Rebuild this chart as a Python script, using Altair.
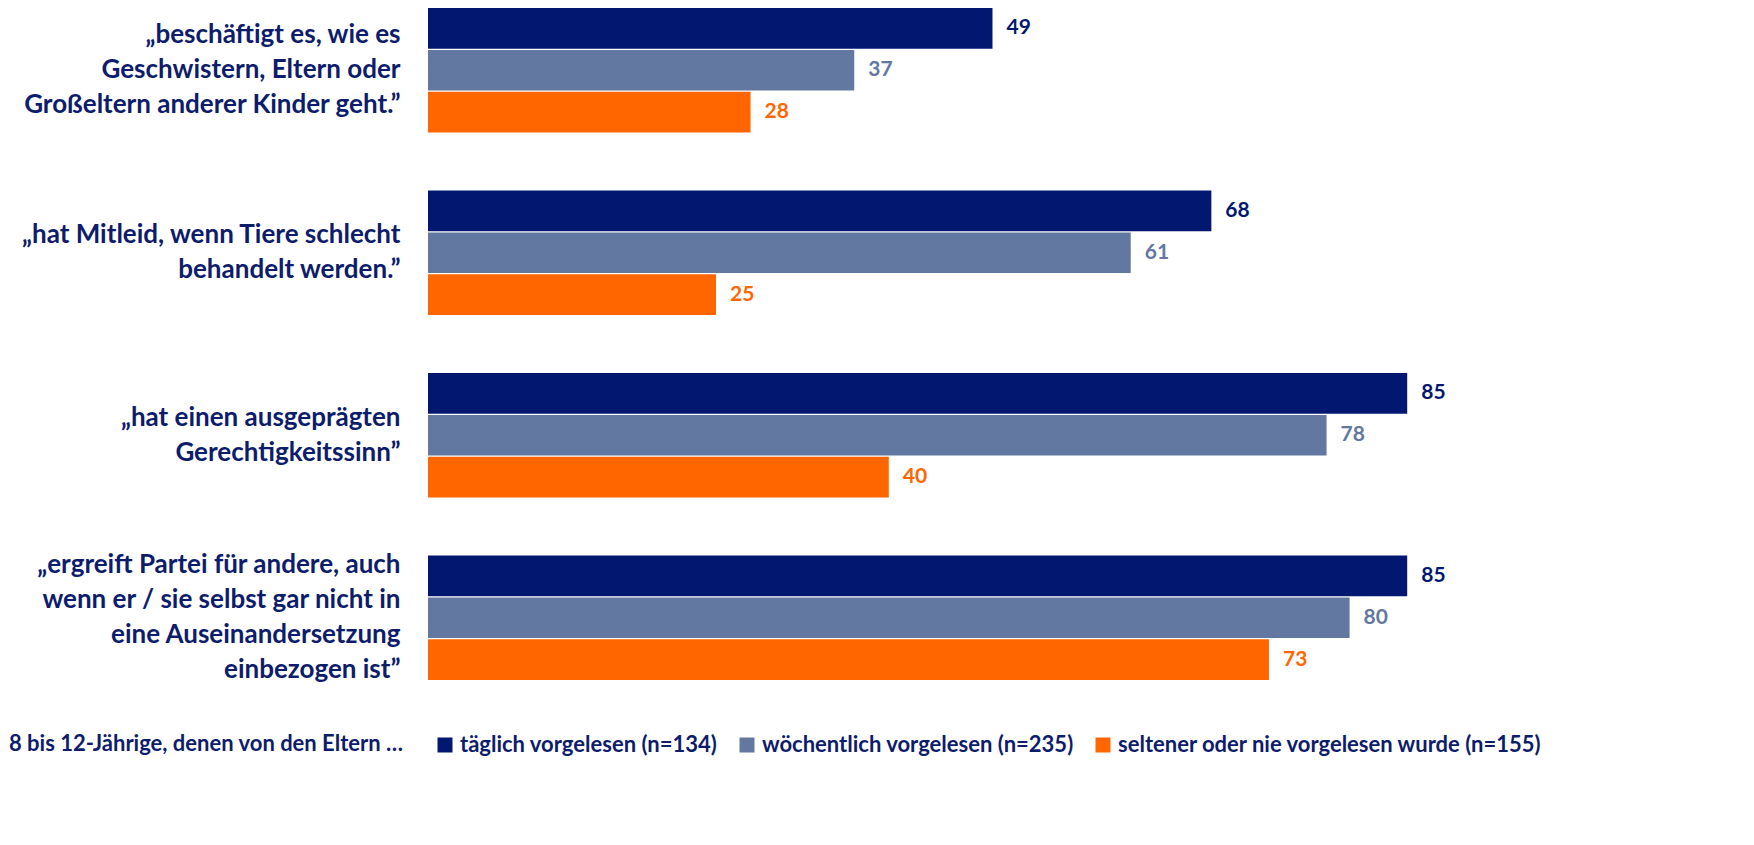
import altair as alt
import pandas as pd

categories = [
    "„beschäftigt es, wie es|Geschwistern, Eltern oder|Großeltern anderer Kinder geht.”",
    "„hat Mitleid, wenn Tiere schlecht|behandelt werden.”",
    "„hat einen ausgeprägten|Gerechtigkeitssinn”",
    "„ergreift Partei für andere, auch|wenn er / sie selbst gar nicht in|eine Auseinandersetzung|einbezogen ist”",
]
series = [
    "täglich vorgelesen (n=134)",
    "wöchentlich vorgelesen (n=235)",
    "seltener oder nie vorgelesen wurde (n=155)",
]
values_daily = [49, 68, 85, 85]
values_weekly = [37, 61, 78, 80]
values_rarely = [28, 25, 40, 73]
colors = ["#021870", "#6378A0", "#FF6600"]
footnote = ["8 bis 12-Jährige, denen von den Eltern …"]

rows = []
for s, vals in zip(series, [values_daily, values_weekly, values_rarely]):
    for c, v in zip(categories, vals):
        rows.append({"cat": c, "series": s, "value": v})
df = pd.DataFrame(rows)
df_note = pd.DataFrame({"note": footnote})

navy_text = "#0D1C6B"
FONT = "Lato"
LH = 35

y_enc = alt.Y(
    "cat:N",
    sort=categories,
    scale=alt.Scale(paddingInner=0.318, paddingOuter=0),
    axis=alt.Axis(
        title=None,
        labelExpr="split(datum.label, '|')",
        labelFontSize=26,
        labelFont=FONT,
        labelFontWeight="bold",
        labelColor=navy_text,
        labelPadding=28,
        labelLimit=430,
        labelLineHeight=LH,
        labelAlign="right",
        labelOffset=alt.ExprRef(f"-(length(split(datum.value, '|')) - 1) * {LH / 2}"),
        ticks=False,
        domain=False,
        grid=False,
    ),
)
yoff = alt.YOffset("series:N", sort=series, scale=alt.Scale(paddingInner=0.03))
x_enc = alt.X("value:Q", scale=alt.Scale(domain=[0, 100]), axis=None)
color_scale = alt.Scale(domain=series, range=colors)
color_enc = alt.Color(
    "series:N",
    sort=series,
    scale=color_scale,
    legend=alt.Legend(
        title=None,
        orient="none",
        legendX=6,
        legendY=726,
        direction="horizontal",
        symbolType="square",
        symbolSize=225,
        symbolStrokeWidth=0,
        symbolOpacity=1,
        labelFontSize=22,
        labelFont=FONT,
        labelFontWeight="bold",
        labelColor=navy_text,
        labelOffset=4,
        columnPadding=18,
        labelLimit=600,
    ),
)

base = alt.Chart(df)
bars = base.mark_bar().encode(x=x_enc, y=y_enc, yOffset=yoff, color=color_enc)
labels = base.mark_text(
    align="left", baseline="middle", dx=14, fontSize=21, fontWeight="bold", font=FONT
).encode(
    x=x_enc,
    y=y_enc,
    yOffset=yoff,
    color=alt.Color("series:N", sort=series, scale=color_scale, legend=None),
    text=alt.Text("value:Q"),
)
note = alt.Chart(df_note).mark_text(
    align="left", baseline="middle", fontSize=22, fontWeight="bold", font=FONT,
    color=navy_text,
).encode(text="note:N", x=alt.value(-419), y=alt.value(736))

chart = (
    alt.layer(bars, labels, note)
    .properties(
        width=1152,
        height=672,
        autosize=alt.AutoSizeParams(type="none"),
        padding={"left": 420, "top": 0, "right": 120, "bottom": 130},
    )
    .configure(background="white")
    .configure_view(stroke=None)
)

chart.save("out.html", embed_options={"renderer": "svg", "actions": False})
